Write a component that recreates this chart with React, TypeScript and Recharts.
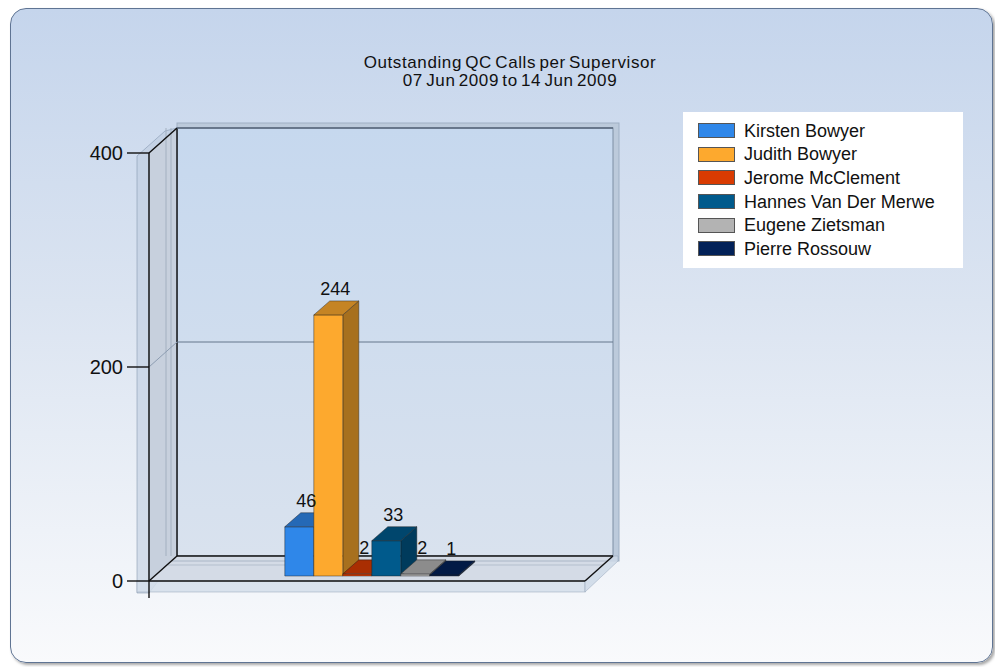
import React from 'react'
import { BarChart, Bar, XAxis, YAxis, ReferenceArea, ReferenceLine, LabelList, Legend } from 'recharts'

const categories = ['Supervisors']
const seriesNames = ['Kirsten Bowyer', 'Judith Bowyer', 'Jerome McClement', 'Hannes Van Der Merwe', 'Eugene Zietsman', 'Pierre Rossouw']
const seriesValues = [46, 244, 2, 33, 2, 1]
const seriesColors = ['#2f87e9', '#fda92e', '#d93b02', '#005a8c', '#b3b3b3', '#022158']
const yTicks = [0, 200, 400]
const titleLines = ['Outstanding QC Calls per Supervisor', '07 Jun 2009 to 14 Jun 2009']

const data = categories.map((c) => {
  const row: Record<string, string | number> = { name: c }
  seriesNames.forEach((_, i) => (row['s' + i] = seriesValues[i]))
  return row
})

const FONT = '"Liberation Sans", Arial, sans-serif'
// wall depth offset and bar depth offset
const WD = 28
const WH = -25
const BD = 16
const BH = -14
const SX = 5
const SY = -5

function shade(hex: string, f: number) {
  const n = parseInt(hex.slice(1), 16)
  const r = Math.round(((n >> 16) & 255) * f)
  const g = Math.round(((n >> 8) & 255) * f)
  const b = Math.round((n & 255) * f)
  return `rgb(${r},${g},${b})`
}

function Bar3D(props: any) {
  const { x, y, width, height, fill } = props
  if (width == null || height == null) return null
  const fx = x + SX
  const fy = y + SY
  const w = width
  const h = Math.max(height, 0.5)
  const top = `${fx},${fy} ${fx + BD},${fy + BH} ${fx + w + BD},${fy + BH} ${fx + w},${fy}`
  const side = `${fx + w},${fy} ${fx + w + BD},${fy + BH} ${fx + w + BD},${fy + h + BH} ${fx + w},${fy + h}`
  return (
    <g stroke="rgba(30,30,30,0.55)" strokeWidth={0.8} strokeLinejoin="round">
      <polygon points={side} fill={shade(fill, 0.66)} />
      <rect x={fx} y={fy} width={w} height={h} fill={fill} />
      <polygon points={top} fill={shade(fill, 0.78)} />
    </g>
  )
}

function BarLabel(props: any) {
  const vb = props.viewBox || props
  const { x, y, width } = vb
  if (x == null) return null
  return (
    <text x={x + width / 2 + SX + 7} y={y + SY - 20} textAnchor="middle" fontSize={18} fontFamily={FONT} fill="#111">
      {props.value}
    </text>
  )
}

function Frame(props: any) {
  const { x, y, width, height } = props
  const x0 = x
  const x1 = x + width
  const y0 = y
  const y1 = y + height
  const bx0 = x0 + WD
  const bx1 = x1 + WD
  const by0 = y0 + WH
  const by1 = y1 + WH
  return (
    <g>
      <defs>
        <linearGradient id="backWall" x1="0" y1="0" x2="0" y2="1">
          <stop offset="0%" stopColor="#c6d8ee" />
          <stop offset="100%" stopColor="#d9e2ee" />
        </linearGradient>
      </defs>
      {/* back wall slab */}
      <rect x={bx0} y={by0 - 5} width={bx1 - bx0 + 6} height={by1 - by0 + 10} fill="#bccadb" stroke="#9fb0c4" strokeWidth={1} />
      <rect x={bx0} y={by0} width={bx1 - bx0} height={by1 - by0} fill="url(#backWall)" stroke="#7d8ea4" strokeWidth={1} />
      {/* left wall slab */}
      <polygon
        points={`${x0 - 12},${y0 + 3} ${bx0 - 12},${by0 + 3} ${bx0},${by0} ${bx0},${by1} ${x0},${y1 + 12} ${x0 - 12},${y1 + 12}`}
        fill="rgba(188,202,222,0.55)"
        stroke="rgba(120,140,165,0.5)"
      />
      <polygon points={`${x0},${y0} ${bx0},${by0} ${bx0},${by1} ${x0},${y1}`} fill="#c7d0dd" stroke="#9aa9bb" />
      <line x1={bx0 - 11} y1={by0} x2={bx0 - 11} y2={by1} stroke="#a3b0c0" />
      <line x1={bx0 - 6} y1={by0} x2={bx0 - 6} y2={by1} stroke="#a3b0c0" />
      {/* floor slab */}
      <polygon points={`${x0},${y1} ${bx0},${by1} ${bx1},${by1} ${x1},${y1}`} fill="#d4dbe6" />
      <line x1={bx0 - 5} y1={by1 + 5} x2={bx1 - 5} y2={by1 + 5} stroke="#aab6c6" />
      <line x1={bx0 - 9} y1={by1 + 9} x2={bx1 - 9} y2={by1 + 9} stroke="#b4bfcd" />
      <rect x={x0 - 12} y={y1} width={x1 - x0 + 12} height={11} fill="rgba(212,222,234,0.85)" stroke="rgba(150,165,185,0.5)" />
      <polygon
        points={`${x1},${y1} ${bx1},${by1} ${bx1 + 5},${by1} ${bx1 + 5},${by1 + 5} ${x1},${y1 + 11}`}
        fill="rgba(205,216,230,0.85)"
        stroke="rgba(150,165,185,0.5)"
      />
      {/* edges */}
      <g stroke="#111" strokeWidth={1.4}>
        <line x1={x0} y1={y0} x2={bx0} y2={by0} />
        <line x1={bx0} y1={by0} x2={bx0} y2={by1} />
        <line x1={x0} y1={y1} x2={bx0} y2={by1} />
        <line x1={bx0} y1={by1} x2={bx1} y2={by1} />
        <line x1={x0} y1={y1} x2={x1} y2={y1} />
        <line x1={x1} y1={y1} x2={bx1} y2={by1} />
        <line x1={x0} y1={y1} x2={x0} y2={y1 + 17} />
      </g>
      <line x1={bx0} y1={by0} x2={bx1} y2={by0} stroke="#566579" strokeWidth={1.3} />
    </g>
  )
}

function BackGridLine(props: any) {
  const { x1, y1, x2, y2 } = props
  return (
    <g>
      <line x1={x1} y1={y1} x2={x1 + WD} y2={y1 + WH} stroke="#8d9db2" strokeWidth={1} />
      <line x1={x1 + WD} y1={y1 + WH} x2={x2 + WD} y2={y2 + WH} stroke="#65768c" strokeWidth={1} />
    </g>
  )
}

function LegendBox(props: any) {
  const payload = [...(props.payload || [])].sort(
    (a: any, b: any) => seriesNames.indexOf(a.value) - seriesNames.indexOf(b.value)
  )
  return (
    <div style={{ background: '#fff', width: 280, height: 156, boxSizing: 'border-box', paddingTop: 7, paddingLeft: 15 }}>
      {payload.map((p: any) => (
        <div key={p.value} style={{ display: 'flex', alignItems: 'center', height: 23.6 }}>
          <span style={{ width: 37, height: 15, background: p.color, border: '1px solid #555', boxSizing: 'border-box', marginRight: 9 }} />
          <span style={{ fontSize: 18, fontFamily: FONT, color: '#111', lineHeight: '20px' }}>{p.value}</span>
        </div>
      ))}
    </div>
  )
}

export default function App() {
  return (
    <div style={{ position: 'absolute', left: 0, top: 0, width: 995, height: 667, background: '#fff' }}>
      <div
        style={{
          position: 'absolute',
          left: 10,
          top: 8,
          width: 983,
          height: 655,
          boxSizing: 'border-box',
          borderRadius: 16,
          border: '1.5px solid #5f7493',
          background: 'linear-gradient(180deg, #c5d5ec 0%, #dbe4f1 45%, #f9fafc 100%)',
          boxShadow: '2px 2px 3px rgba(0,0,0,0.35)',
        }}
      />
      <div
        style={{
          position: 'absolute',
          left: 310,
          top: 54,
          width: 400,
          textAlign: 'center',
          fontFamily: FONT,
          fontSize: 17,
          lineHeight: '18px',
          letterSpacing: 0.6,
          wordSpacing: -2,
          color: '#111',
        }}
      >
        {titleLines.map((t) => (
          <div key={t}>{t}</div>
        ))}
      </div>
      <div style={{ position: 'absolute', left: 0, top: 0 }}>
        <BarChart width={995} height={667} data={data} margin={{ top: 153, right: 410, bottom: 86, left: 89 }} barGap={0} barCategoryGap="30%">
          <XAxis dataKey="name" hide />
          <YAxis
            width={60}
            domain={[0, 400]}
            ticks={yTicks}
            tickSize={22}
            tickMargin={4}
            axisLine={{ stroke: '#111', strokeWidth: 1.4 }}
            tickLine={{ stroke: '#111', strokeWidth: 1.4 }}
            tick={{ fontSize: 20, fontFamily: FONT, fill: '#111' }}
          />
          <ReferenceArea y1={0} y2={400} shape={<Frame />} zIndex={-200} />
          <ReferenceLine y={200} shape={(p: any) => <BackGridLine {...p} />} zIndex={-150} />
          {seriesNames.map((s, i) => (
            <Bar key={s} dataKey={'s' + i} name={s} fill={seriesColors[i]} shape={<Bar3D />} isAnimationActive={false}>
              <LabelList dataKey={'s' + i} content={<BarLabel />} />
            </Bar>
          ))}
          <Legend
            layout="vertical"
            align="center"
            verticalAlign="middle"
            content={<LegendBox />}
            wrapperStyle={{ position: 'absolute', left: 683, top: 112, width: 280, height: 156 }}
          />
        </BarChart>
      </div>
    </div>
  )
}
